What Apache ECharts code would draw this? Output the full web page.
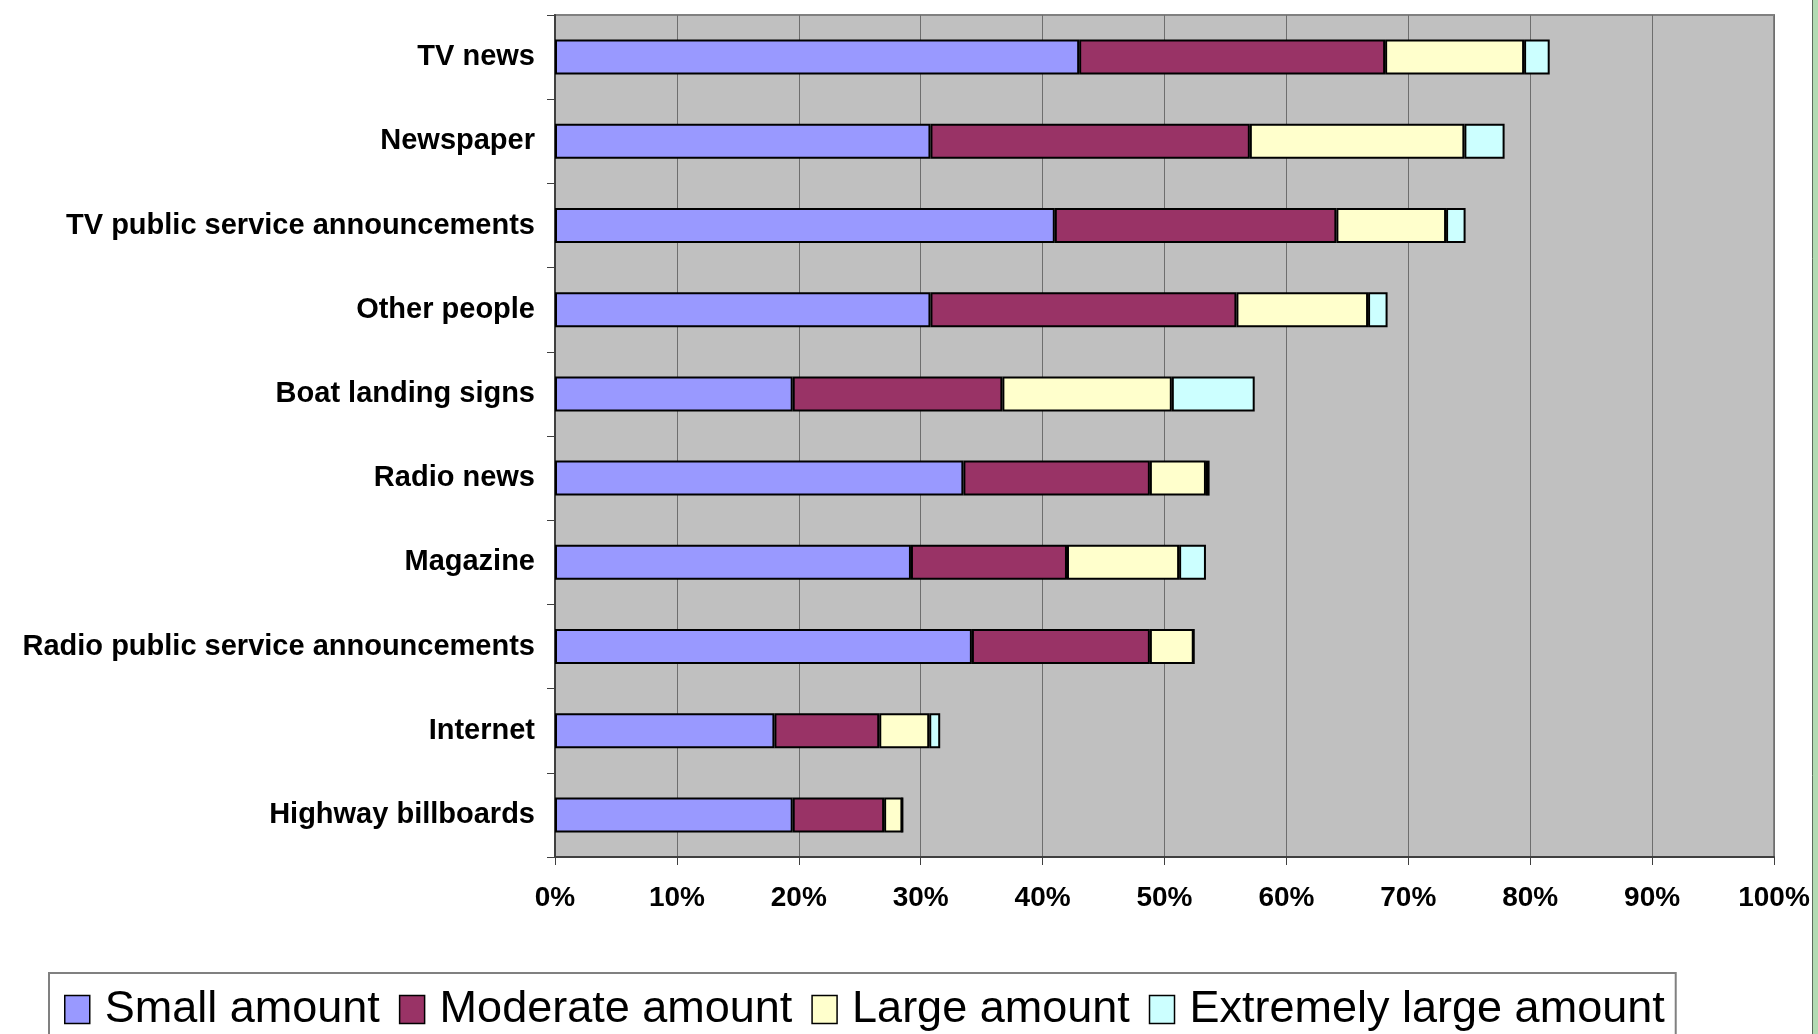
<!DOCTYPE html>
<html>
<head>
<meta charset="utf-8">
<script src="https://cdn.jsdelivr.net/npm/echarts@6/dist/echarts.min.js"></script>
<style>
html,body{margin:0;padding:0;background:#fff;}
#chart{width:1818px;height:1034px;}
</style>
</head>
<body>
<div id="chart"></div>
<script>
var categories = ['TV news','Newspaper','TV public service announcements','Other people','Boat landing signs','Radio news','Magazine','Radio public service announcements','Internet','Highway billboards'];
var seriesNames = ['Small amount','Moderate amount','Large amount','Extremely large amount'];
var small    = [43.0, 30.8, 41.0, 30.8, 19.5, 33.5, 29.2, 34.2, 18.0, 19.5];
var moderate = [25.1, 26.2, 23.1, 25.1, 17.2, 15.3, 12.8, 14.6, 8.6, 7.5];
var large    = [11.4, 17.6, 9.0, 10.8, 13.9, 4.6, 9.2, 3.6, 4.1, 1.5];
var extreme  = [2.1, 3.3, 1.6, 1.6, 6.8, 0.3, 2.2, 0, 0.9, 0];
var colors = ['#9999FF','#993366','#FFFFCC','#CCFFFF'];
var xTicks = {min:0, max:100, interval:10};

var chart = echarts.init(document.getElementById('chart'), null, {renderer:'canvas'});
var font = "'Liberation Sans', Arial, sans-serif";
var values = [small, moderate, large, extreme];
var series = seriesNames.map(function(n, i){
  return {
    name: n, type: 'bar', stack: 'total', barWidth: 35,
    data: values[i],
    itemStyle: {color: colors[i], borderColor: '#000', borderWidth: 2},
    emphasis: {disabled: true}
  };
});
chart.setOption({
  animation: false,
  textStyle: {fontFamily: font},
  grid: {left: 555, right: 44, top: 15, bottom: 177, show: true,
         backgroundColor: '#C0C0C0', borderColor: '#808080', borderWidth: 2},
  xAxis: {
    type: 'value', min: xTicks.min, max: xTicks.max, interval: xTicks.interval,
    axisLine: {show: true, lineStyle: {color: '#404040', width: 2}},
    axisTick: {show: true, length: 8, lineStyle: {color: '#404040', width: 1}},
    splitLine: {show: true, lineStyle: {color: '#6e6e6e', width: 1}},
    axisLabel: {formatter: '{value}%', fontSize: 28, fontWeight: 'bold', color: '#000',
                fontFamily: font, margin: 27}
  },
  yAxis: {
    type: 'category', data: categories, inverse: true,
    axisLine: {show: true, lineStyle: {color: '#404040', width: 2}},
    axisTick: {show: true, length: 8, lineStyle: {color: '#404040', width: 1}},
    splitLine: {show: false},
    axisLabel: {fontSize: 29, fontWeight: 'bold', color: '#000', fontFamily: font, margin: 20,
                padding: [8, 0, 0, 0]}
  },
  legend: {
    data: seriesNames, left: 49, top: 973, orient: 'horizontal',
    padding: [14, 11, 30, 15],
    borderColor: '#808080', borderWidth: 2, backgroundColor: '#fff',
    itemWidth: 25, itemHeight: 28, itemGap: 19, icon: 'rect',
    itemStyle: {borderColor: '#000', borderWidth: 1.5},
    textStyle: {fontSize: 45, color: '#000', fontFamily: font, lineHeight: 44,
                padding: [0, 0, 0, 10]},
    selectedMode: false
  },
  graphic: [
    {type: 'rect', z: 100, shape: {x: 1812, y: 0, width: 6, height: 1034},
     style: {fill: '#b3dbb3'}},
    {type: 'line', z: 101, shape: {x1: 1812.5, y1: 0, x2: 1812.5, y2: 1034},
     style: {stroke: '#5c6b5c', lineWidth: 1}}
  ],
  series: series
});
</script>
</body>
</html>
